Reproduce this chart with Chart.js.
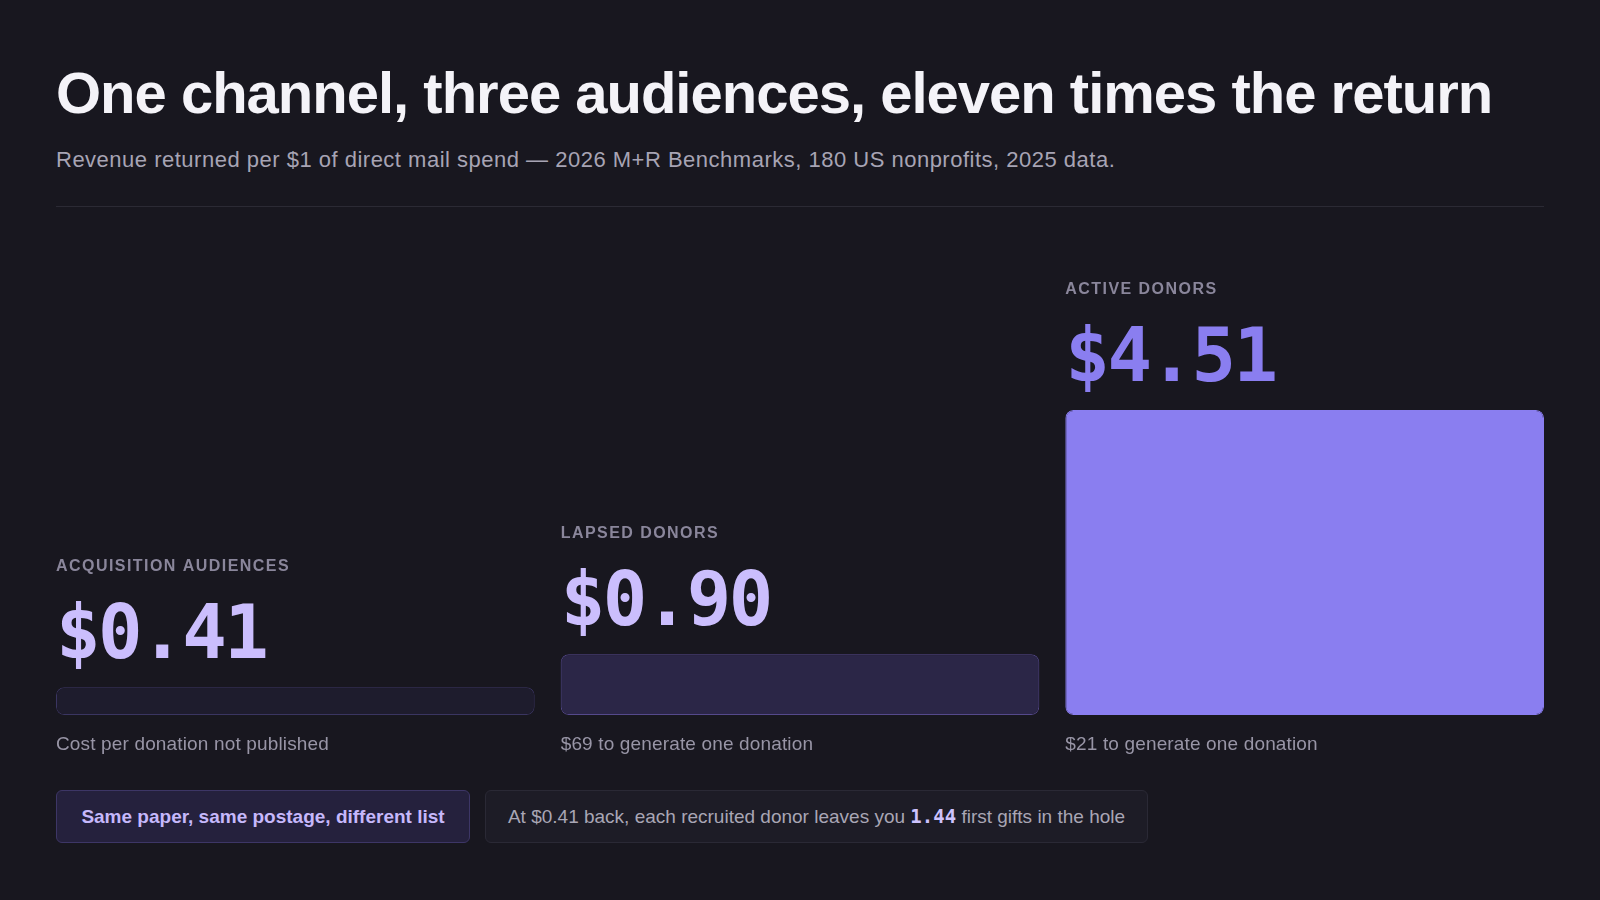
<!DOCTYPE html>
<html>
<head>
<meta charset="utf-8">
<script src="https://cdn.jsdelivr.net/npm/chart.js@4.4.1/dist/chart.umd.min.js"></script>
<style>
  html, body { margin: 0; padding: 0; background: #18171f; }
  body { width: 1600px; height: 900px; position: relative; overflow: hidden;
         font-family: "Liberation Sans", Helvetica, Arial, sans-serif; }
  h1 { position: absolute; left: 56px; top: 63px; margin: 0; font-size: 58px; line-height: 60px;
       font-weight: 700; color: #f4f3f8; letter-spacing: -1px; white-space: nowrap; }
  .sub { position: absolute; left: 56px; top: 148px; margin: 0; font-size: 22px; line-height: 24px;
         color: #a7a4b4; letter-spacing: 0.5px; white-space: nowrap; }
  .rule { position: absolute; left: 56px; top: 206px; width: 1488px; height: 1px; background: #2b2a34; }
  #wrap { position: absolute; left: 0; top: 220px; width: 1600px; height: 550px; }
  .pill { position: absolute; top: 790px; height: 53px; box-sizing: border-box; border-radius: 6px;
          font-size: 19px; line-height: 51px; white-space: nowrap; }
  .p1 { left: 56px; width: 414px; background: #25213d; border: 1px solid #3d3666; color: #c6b8fb;
        font-weight: 700; text-align: center; }
  .p2 { left: 485px; width: 663px; background: #1d1c26; border: 1px solid #2a2935; color: #a9a6b5;
        text-align: center; }
  .p2 b { font-family: "DejaVu Sans Mono", monospace; color: #cdc2fc; font-weight: 700; }
</style>
</head>
<body>
<h1>One channel, three audiences, eleven times the return</h1>
<p class="sub">Revenue returned per $1 of direct mail spend — 2026 M+R Benchmarks, 180 US nonprofits, 2025 data.</p>
<div class="rule"></div>
<div id="wrap"><canvas id="chart" width="1600" height="550"></canvas></div>
<div class="pill p1">Same paper, same postage, different list</div>
<div class="pill p2">At $0.41 back, each recruited donor leaves you <b>1.44</b> first gifts in the hole</div>

<script>
// audiences, left to right
const audiences = ['ACQUISITION AUDIENCES', 'LAPSED DONORS', 'ACTIVE DONORS'];
// revenue returned per $1 spent
const returns = [0.41, 0.90, 4.51];
// line under each bar
const captions = ['Cost per donation not published', '$69 to generate one donation', '$21 to generate one donation'];

const barFill = ['#1e1c2d', '#2b2647', '#8a7ef0'];
const barEdge = ['#3a3561', '#55498c', '#8a7ef0'];
const valueColor = ['#cbbefd', '#cbbefd', '#8a7ef0'];

// labels sit on top of each bar, caption underneath
const barLabels = {
  id: 'barLabels',
  afterDatasetsDraw(chart) {
    const ctx = chart.ctx;
    const bars = chart.getDatasetMeta(0).data;
    ctx.save();
    ctx.textAlign = 'left';
    ctx.textBaseline = 'alphabetic';
    bars.forEach((bar, i) => {
      const left = bar.x - bar.width / 2;
      const top = Math.min(bar.y, bar.base);
      const bottom = Math.max(bar.y, bar.base);

      ctx.letterSpacing = '1.45px';
      ctx.font = '700 16px "Liberation Sans", Helvetica, Arial, sans-serif';
      ctx.fillStyle = '#8a869b';
      ctx.fillText(audiences[i], left, top - 116);

      ctx.letterSpacing = '-2.5px';
      ctx.font = '700 74px "DejaVu Sans Mono", monospace';
      ctx.fillStyle = valueColor[i];
      ctx.fillText('$' + returns[i].toFixed(2), left, top - 29);

      ctx.letterSpacing = '0.15px';
      ctx.font = '400 19px "Liberation Sans", Helvetica, Arial, sans-serif';
      ctx.fillStyle = '#9895a6';
      ctx.fillText(captions[i], left, bottom + 35);
    });
    ctx.restore();
  }
};

new Chart(document.getElementById('chart'), {
  type: 'bar',
  data: {
    labels: audiences,
    datasets: [{
      data: returns,
      backgroundColor: barFill,
      borderColor: barEdge,
      borderWidth: 1,
      borderRadius: 8,
      borderSkipped: false,
      barPercentage: 0.9485,
      categoryPercentage: 1
    }]
  },
  options: {
    responsive: false,
    animation: false,
    layout: { padding: { left: 43, right: 43, top: 190, bottom: 55 } },
    plugins: { legend: { display: false }, tooltip: { enabled: false } },
    scales: {
      x: { display: false },
      y: { display: false, min: 0, max: Math.max(...returns) }
    }
  },
  plugins: [barLabels]
});
</script>
</body>
</html>
